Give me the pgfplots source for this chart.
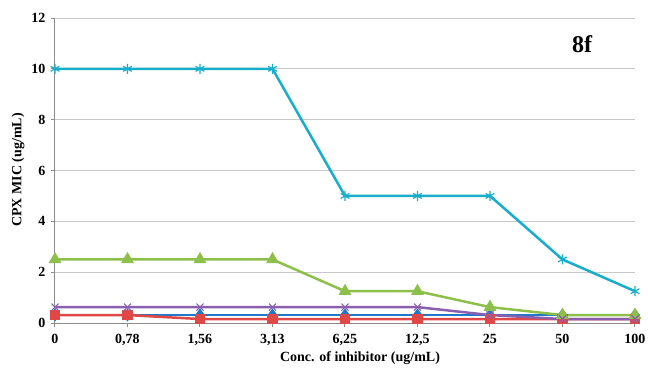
\documentclass[border=0pt]{standalone}
\usepackage{pgfplots}
\pgfplotsset{compat=1.18}
\usepackage{fontspec}
\setmainfont{Liberation Serif}
\definecolor{cblue}{HTML}{1F78C8}
\definecolor{cred}{HTML}{E04848}
\definecolor{cgreen}{HTML}{8DC04A}
\definecolor{cpurple}{HTML}{8A5FB0}
\definecolor{ccyan}{HTML}{17AECB}
\definecolor{gridc}{HTML}{C8C8C8}
\definecolor{axc}{HTML}{8C8C8C}
\begin{document}
\begin{tikzpicture}
\begin{axis}[
  name=ax,
  at={(0,0)}, anchor=south west,
  scale only axis,
  width=580pt, height=305pt,
  xmin=0, xmax=8, ymin=0, ymax=12,
  xtick={0,...,8},
  xticklabels={0,{0,78},{1,56},{3,13},{6,25},{12,5},25,50,100},
  ytick={0,2,...,12},
  axis x line*=bottom, axis y line*=left,
  axis line style={axc, line width=1pt, -},
  ymajorgrids, grid style={gridc, line width=1pt},
  tick align=outside, major tick length=4pt,
  tick style={axc, line width=1pt},
  /pgf/number format/assume math mode=true,
  ticklabel style={font=\fontsize{14}{14}\selectfont\bfseries},
  xticklabel style={yshift=-4pt},
  yticklabel style={xshift=-2pt},
  clip=false,
]
\addplot[cblue, line width=2.5pt, mark=diamond*, mark size=4.5pt, mark options={solid}] coordinates {
(0,0.3125) (1,0.3125) (2,0.3125) (3,0.3125) (4,0.3125) (5,0.3125) (6,0.3125) (7,0.3125) (8,0.3125)};
\addplot[cred, line width=2.5pt, mark=square*, mark size=4pt] coordinates {
(0,0.3125) (1,0.3125) (2,0.156) (3,0.156) (4,0.156) (5,0.156) (6,0.156) (7,0.156) (8,0.156)};
\addplot[cgreen, line width=2.5pt, mark=triangle*, mark size=5pt] coordinates {
(0,2.5) (1,2.5) (2,2.5) (3,2.5) (4,1.25) (5,1.25) (6,0.625) (7,0.3125) (8,0.3125)};
\addplot[cpurple, line width=2.5pt, mark=x, mark size=5pt, mark options={line width=1.2pt}] coordinates {
(0,0.625) (1,0.625) (2,0.625) (3,0.625) (4,0.625) (5,0.625) (6,0.3125) (7,0.156) (8,0.156)};
\addplot[ccyan, line width=2.5pt, mark=asterisk, mark size=5pt, mark options={line width=1.2pt}] coordinates {
(0,10) (1,10) (2,10) (3,10) (4,5) (5,5) (6,5) (7,2.5) (8,1.25)};
\node[font=\fontsize{24}{24}\selectfont\bfseries] at (axis cs:7.27,10.98) {8f};
\end{axis}
\node[font=\fontsize{14}{14}\selectfont\bfseries] at (305pt,-35pt) {Conc. of inhibitor (ug/mL)};
\node[font=\fontsize{14}{14}\selectfont\bfseries, rotate=90] at (-37pt,153pt) {CPX MIC (ug/mL)};
\pgfresetboundingbox
\path (-55pt,-45pt) rectangle (593pt,323pt);
\end{tikzpicture}
\end{document}
